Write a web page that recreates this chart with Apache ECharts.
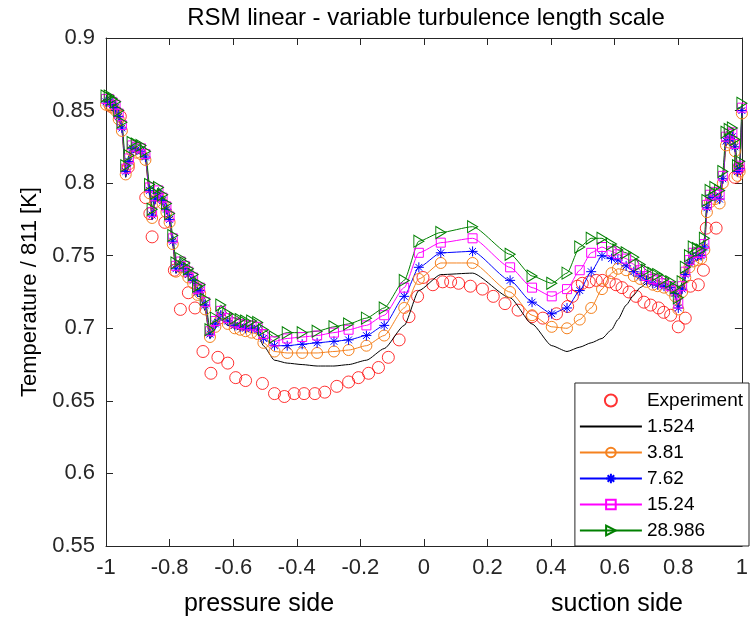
<!DOCTYPE html>
<html><head><meta charset="utf-8">
<script src="https://cdn.jsdelivr.net/npm/echarts@6/dist/echarts.min.js"></script>
<style>html,body{margin:0;padding:0;background:#fff}#c{width:751px;height:618px}</style>
</head><body><div id="c"></div>
<script>
// ---- Data ----
const TITLE = 'RSM linear - variable turbulence length scale';
const Y_NAME = 'Temperature / 811 [K]';
const SIDE_LABELS = ['pressure side', 'suction side'];
const LEGEND_NAMES = ['Experiment', '1.524', '3.81', '7.62', '15.24', '28.986'];

const EXP_X = [-0.985,-0.955,-0.93,-0.875,-0.862,-0.855,-0.815,-0.785,-0.766,-0.741,-0.72,-0.695,-0.67,-0.648,-0.617,-0.592,-0.561,-0.508,-0.47,-0.439,-0.408,-0.377,-0.343,-0.312,-0.274,-0.237,-0.206,-0.174,-0.143,-0.112,-0.078,-0.047,-0.02,-0.003,0.028,0.059,0.084,0.109,0.146,0.184,0.218,0.255,0.296,0.34,0.374,0.417,0.452,0.467,0.483,0.498,0.52,0.542,0.561,0.583,0.604,0.623,0.645,0.667,0.692,0.713,0.738,0.754,0.776,0.80,0.822,0.838,0.863,0.879,0.888,0.919,0.978,0.99];
const EXP_Y = [0.853,0.846,0.811,0.790,0.779,0.763,0.773,0.740,0.713,0.7245,0.714,0.684,0.669,0.680,0.676,0.666,0.664,0.662,0.655,0.653,0.655,0.655,0.655,0.656,0.660,0.663,0.666,0.669,0.673,0.680,0.692,0.708,0.722,0.735,0.730,0.732,0.732,0.731,0.729,0.727,0.722,0.717,0.7125,0.708,0.707,0.710,0.715,0.722,0.729,0.731,0.732,0.733,0.733,0.732,0.730,0.728,0.725,0.722,0.718,0.716,0.714,0.711,0.709,0.701,0.707,0.729,0.730,0.740,0.769,0.769,0.804,0.810];

const SIM_X = [-1.0,-0.99,-0.98,-0.97,-0.96,-0.95,-0.938,-0.928,-0.918,-0.905,-0.89,-0.876,-0.863,-0.855,-0.845,-0.835,-0.822,-0.81,-0.8,-0.79,-0.78,-0.765,-0.752,-0.741,-0.726,-0.712,-0.704,-0.688,-0.673,-0.656,-0.639,-0.617,-0.595,-0.578,-0.561,-0.542,-0.523,-0.505,
 -0.47,-0.43,-0.383,-0.336,-0.283,-0.237,-0.181,-0.125,-0.062,-0.016,0.053,0.153,0.271,0.34,0.402,
 0.45,0.49,0.526,0.56,0.59,0.61,0.636,0.66,0.68,0.70,0.72,0.735,0.755,0.776,0.79,0.80,0.812,0.822,0.835,0.847,0.86,0.872,0.882,0.89,0.90,0.915,0.93,0.94,0.95,0.96,0.97,0.978,0.986,0.993,1.0];

const Y_1_524 = [0.855,0.855,0.853,0.851,0.845,0.836,0.804,0.812,0.822,0.821,0.820,0.816,0.792,0.775,0.787,0.791,0.786,0.780,0.773,0.757,0.738,0.742,0.739,0.735,0.731,0.722,0.722,0.712,0.693,0.700,0.706,0.702,0.700,0.699,0.699,0.699,0.697,0.688,
 0.678,0.676,0.675,0.674,0.674,0.675,0.678,0.686,0.702,0.726,0.737,0.738,0.721,0.703,0.688,
 0.684,0.687,0.690,0.693,0.699,0.706,0.716,0.723,0.728,0.731,0.730,0.729,0.728,0.726,0.722,0.713,0.725,0.735,0.742,0.746,0.747,0.748,0.754,0.780,0.787,0.789,0.786,0.800,0.826,0.828,0.829,0.822,0.805,0.808,0.848];
const Y_3_81 = [0.854,0.854,0.852,0.850,0.844,0.836,0.806,0.813,0.822,0.821,0.820,0.816,0.793,0.776,0.787,0.791,0.786,0.780,0.773,0.758,0.739,0.742,0.739,0.735,0.731,0.723,0.724,0.713,0.694,0.701,0.707,0.703,0.700,0.699,0.698,0.697,0.696,0.690,
 0.684,0.683,0.683,0.683,0.684,0.685,0.688,0.695,0.714,0.734,0.745,0.745,0.725,0.709,0.701,
 0.700,0.706,0.714,0.727,0.738,0.741,0.740,0.736,0.734,0.732,0.730,0.729,0.728,0.726,0.722,0.713,0.725,0.735,0.742,0.746,0.747,0.748,0.754,0.780,0.787,0.789,0.786,0.800,0.826,0.828,0.829,0.822,0.805,0.808,0.848];
const Y_7_62 = [0.856,0.856,0.854,0.852,0.846,0.838,0.808,0.815,0.824,0.823,0.822,0.818,0.795,0.778,0.789,0.793,0.788,0.782,0.775,0.760,0.741,0.744,0.741,0.737,0.733,0.725,0.726,0.716,0.696,0.703,0.709,0.705,0.702,0.701,0.700,0.700,0.699,0.693,
 0.688,0.688,0.689,0.690,0.691,0.692,0.695,0.702,0.722,0.742,0.752,0.753,0.733,0.718,0.710,
 0.714,0.726,0.739,0.750,0.748,0.747,0.743,0.739,0.736,0.733,0.731,0.730,0.729,0.728,0.724,0.714,0.727,0.737,0.745,0.749,0.750,0.750,0.756,0.783,0.790,0.791,0.789,0.803,0.829,0.831,0.832,0.825,0.808,0.810,0.850];
const Y_15_24 = [0.858,0.858,0.856,0.854,0.848,0.840,0.810,0.817,0.826,0.825,0.824,0.820,0.797,0.780,0.791,0.795,0.790,0.784,0.777,0.762,0.743,0.746,0.743,0.739,0.735,0.727,0.728,0.718,0.698,0.705,0.712,0.707,0.704,0.703,0.702,0.702,0.701,0.696,
 0.691,0.693,0.694,0.695,0.697,0.699,0.702,0.709,0.728,0.752,0.759,0.762,0.742,0.728,0.722,
 0.727,0.740,0.752,0.756,0.753,0.751,0.748,0.744,0.740,0.736,0.734,0.733,0.731,0.729,0.726,0.717,0.729,0.739,0.747,0.752,0.752,0.752,0.758,0.785,0.792,0.794,0.792,0.805,0.832,0.834,0.835,0.827,0.810,0.812,0.852];
const Y_28_986 = [0.860,0.860,0.858,0.856,0.850,0.842,0.812,0.819,0.828,0.827,0.826,0.822,0.799,0.782,0.793,0.797,0.792,0.786,0.779,0.764,0.745,0.748,0.745,0.741,0.737,0.729,0.730,0.720,0.699,0.707,0.716,0.710,0.707,0.706,0.705,0.705,0.704,0.699,
 0.694,0.697,0.697,0.698,0.701,0.703,0.707,0.714,0.733,0.760,0.766,0.770,0.751,0.736,0.731,
 0.738,0.756,0.762,0.762,0.758,0.754,0.752,0.749,0.744,0.740,0.738,0.737,0.734,0.732,0.728,0.721,0.732,0.742,0.750,0.756,0.755,0.754,0.762,0.788,0.795,0.797,0.795,0.808,0.835,0.837,0.838,0.830,0.812,0.815,0.855];

const X_MIN = -1, X_MAX = 1, X_STEP = 0.2;
const Y_MIN = 0.55, Y_MAX = 0.9, Y_STEP = 0.05;

// ---- Chart ----
const FONT = '"Liberation Sans", Arial, Helvetica, sans-serif';
const AX = '#262626';
const CLEAR = 'rgba(0,0,0,0)';
function pairs(xs, ys) { return xs.map((x, i) => [x, ys[i]]); }

const ASTERISK = 'path://M5,0L5,10M0,5L10,5M1.6,1.6L8.4,8.4M8.4,1.6L1.6,8.4';
const TRIANGLE = 'path://M0,0L10,6L0,12Z';

function simSeries(name, ys, color, symbol, size) {
  const none = symbol === 'none';
  return {
    name, type: 'line', data: pairs(SIM_X, ys),
    symbol: none ? 'circle' : symbol, symbolSize: none ? 0 : size, showSymbol: !none,
    smooth: 0.2, smoothMonotone: 'x',
    lineStyle: { color: color, width: 1 },
    itemStyle: none ? { color: CLEAR, borderColor: CLEAR, borderWidth: 0 }
                    : { color: symbol === ASTERISK ? color : CLEAR, borderColor: color, borderWidth: 1 },
    emphasis: { disabled: true }, animation: false, clip: true
  };
}

const chart = echarts.init(document.getElementById('c'), null, { renderer: 'canvas' });
const baseAxis = {
  type: 'value', axisLine: { show: true, onZero: false, lineStyle: { color: AX, width: 1 } },
  axisTick: { show: true, inside: true, length: 7, lineStyle: { color: AX } },
  splitLine: { show: false }
};
chart.setOption({
  animation: false,
  backgroundColor: '#fff',
  grid: { left: 106, right: 2, top: 38, bottom: 72, containLabel: false },
  xAxis: [
    Object.assign({}, baseAxis, { min: X_MIN, max: X_MAX, interval: X_STEP, position: 'bottom',
      axisLabel: { show: true, margin: 11, fontSize: 22, color: AX, fontFamily: FONT } }),
    Object.assign({}, baseAxis, { min: X_MIN, max: X_MAX, interval: X_STEP, position: 'top',
      axisLabel: { show: false } })
  ],
  yAxis: [
    Object.assign({}, baseAxis, { min: Y_MIN, max: Y_MAX, interval: Y_STEP, position: 'left',
      name: Y_NAME, nameLocation: 'middle', nameRotate: 90, nameGap: 63,
      nameTextStyle: { fontSize: 22, color: '#000', fontFamily: FONT },
      axisLabel: { show: true, margin: 11, fontSize: 22, color: AX, fontFamily: FONT } }),
    Object.assign({}, baseAxis, { min: Y_MIN, max: Y_MAX, interval: Y_STEP, position: 'right',
      axisLabel: { show: false } })
  ],
  legend: {
    orient: 'vertical', right: 2, bottom: 72,
    itemWidth: 62, itemHeight: 12, itemGap: 7,
    padding: [8, 6, 6, 4],
    backgroundColor: '#fff', borderColor: AX, borderWidth: 1, borderRadius: 0,
    textStyle: { fontSize: 19, color: '#000', fontFamily: FONT },
    data: LEGEND_NAMES,
    selectedMode: false
  },
  graphic: [
    { type: 'text', x: 426, y: 18, style: { text: TITLE, fontSize: 24, fill: '#000', fontFamily: FONT, align: 'center', verticalAlign: 'middle' } },
    { type: 'text', x: 259, y: 604, style: { text: SIDE_LABELS[0], fontSize: 25, fill: '#000', fontFamily: FONT, align: 'center', verticalAlign: 'middle' } },
    { type: 'text', x: 617, y: 604, style: { text: SIDE_LABELS[1], fontSize: 25, fill: '#000', fontFamily: FONT, align: 'center', verticalAlign: 'middle' } }
  ],
  series: [
    {
      name: LEGEND_NAMES[0], type: 'scatter', data: pairs(EXP_X, EXP_Y),
      symbol: 'circle', symbolSize: 12,
      itemStyle: { color: CLEAR, borderColor: '#ff0000', borderWidth: 1 },
      emphasis: { disabled: true }
    },
    simSeries(LEGEND_NAMES[1], Y_1_524, '#000000', 'none', 0),
    simSeries(LEGEND_NAMES[2], Y_3_81, '#f5821f', 'circle', 11),
    simSeries(LEGEND_NAMES[3], Y_7_62, '#0000ff', ASTERISK, 10),
    simSeries(LEGEND_NAMES[4], Y_15_24, '#ff00ff', 'rect', 9),
    simSeries(LEGEND_NAMES[5], Y_28_986, '#008000', TRIANGLE, [10, 12])
  ]
});
</script>
</body></html>
